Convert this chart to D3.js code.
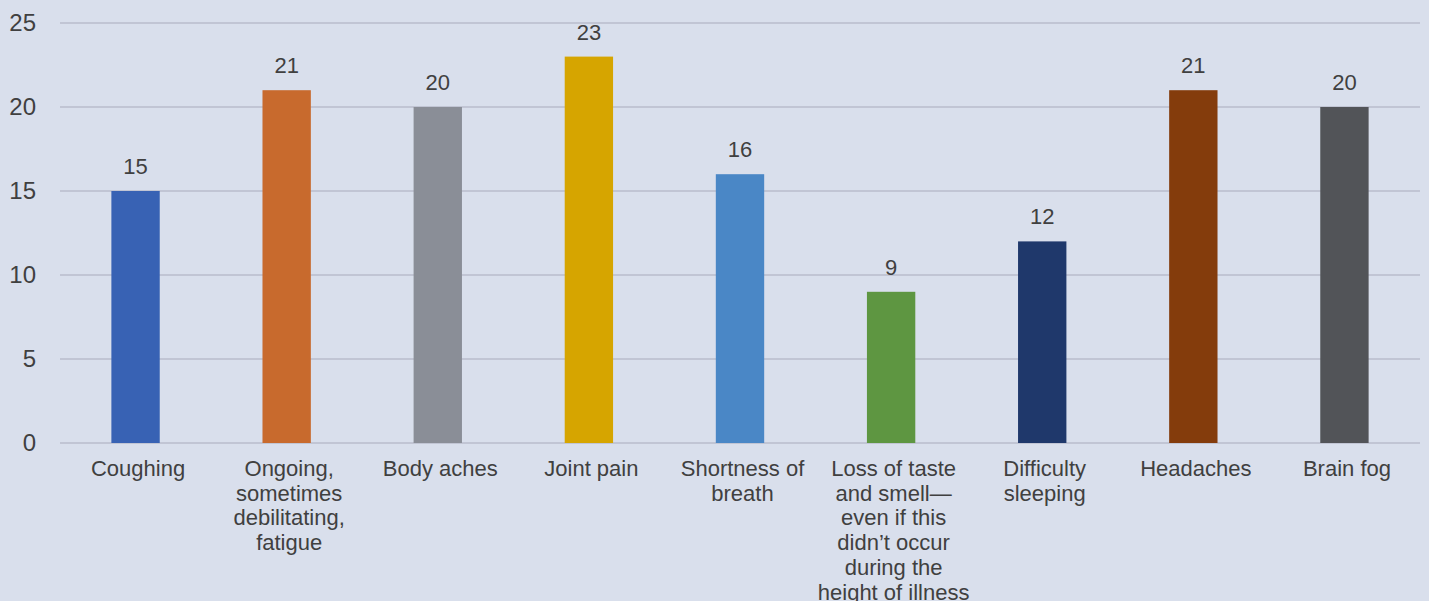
<!DOCTYPE html>
<html>
<head>
<meta charset="utf-8">
<script src="https://cdn.jsdelivr.net/npm/d3@7"></script>
<style>
  body { margin: 0; background: #d9dfec; }
  svg { display: block; font-family: "Liberation Sans", Arial, sans-serif; }
</style>
</head>
<body>
<div id="chart"></div>
<script>
// Data
const categories = [
    ["Coughing"],
    ["Ongoing,", "sometimes", "debilitating,", "fatigue"],
    ["Body aches"],
    ["Joint pain"],
    ["Shortness of", "breath"],
    ["Loss of taste", "and smell\u2014", "even if this", "didn\u2019t occur", "during the", "height of illness"],
    ["Difficulty", "sleeping"],
    ["Headaches"],
    ["Brain fog"]
];
const values = [15, 21, 20, 23, 16, 9, 12, 21, 20];
const colors = ["#3862b4", "#c86a2d", "#8a8e97", "#d6a500", "#4a87c6", "#5e9641", "#1f386b", "#843c0c", "#525458"];
const yTicks = [0, 5, 10, 15, 20, 25];

const width = 1429, height = 601;
const margin = { left: 60, right: 9, top: 23, bottom: 158 };

const svg = d3.select("#chart").append("svg")
    .attr("width", width)
    .attr("height", height);

svg.append("rect")
    .attr("width", width)
    .attr("height", height)
    .attr("fill", "#d9dfec");

const x = d3.scaleBand()
    .domain(d3.range(values.length))
    .range([margin.left, width - margin.right])
    .paddingInner(0.68)
    .paddingOuter(0.34);

const y = d3.scaleLinear()
    .domain([0, 25])
    .range([height - margin.bottom, margin.top]);

// Gridlines
svg.append("g")
    .selectAll("line")
    .data(yTicks)
    .join("line")
    .attr("x1", margin.left)
    .attr("x2", width - margin.right)
    .attr("y1", d => y(d))
    .attr("y2", d => y(d))
    .attr("stroke", "#b9bdcc")
    .attr("stroke-width", 1.5);

// Y axis labels
svg.append("g")
    .selectAll("text")
    .data(yTicks)
    .join("text")
    .attr("x", 36)
    .attr("y", d => y(d))
    .attr("dy", "0.32em")
    .attr("text-anchor", "end")
    .attr("fill", "#404040")
    .style("font-size", "24px")
    .text(d => d);

// Bars
svg.append("g")
    .selectAll("rect")
    .data(values)
    .join("rect")
    .attr("x", (d, i) => x(i))
    .attr("y", d => y(d))
    .attr("width", x.bandwidth())
    .attr("height", d => y(0) - y(d))
    .attr("fill", (d, i) => colors[i]);

// Value labels
svg.append("g")
    .selectAll("text")
    .data(values)
    .join("text")
    .attr("x", (d, i) => x(i) + x.bandwidth() / 2)
    .attr("y", d => y(d) - 17)
    .attr("text-anchor", "middle")
    .attr("fill", "#404040")
    .style("font-size", "22px")
    .text(d => d);

// Category labels (slightly right of bar centre, as in the original)
const labelX = i => x(i) + x.bandwidth() / 2 + 2.5;

const cat = svg.append("g")
    .selectAll("text")
    .data(categories)
    .join("text")
    .attr("x", (d, i) => labelX(i))
    .attr("y", 476)
    .attr("text-anchor", "middle")
    .attr("fill", "#404040")
    .style("font-size", "22px");

cat.selectAll("tspan")
    .data((d, i) => d.map(line => ({ line, i })))
    .join("tspan")
    .attr("x", d => labelX(d.i))
    .attr("dy", (d, j) => j === 0 ? 0 : 24.7)
    .text(d => d.line);
</script>
</body>
</html>
